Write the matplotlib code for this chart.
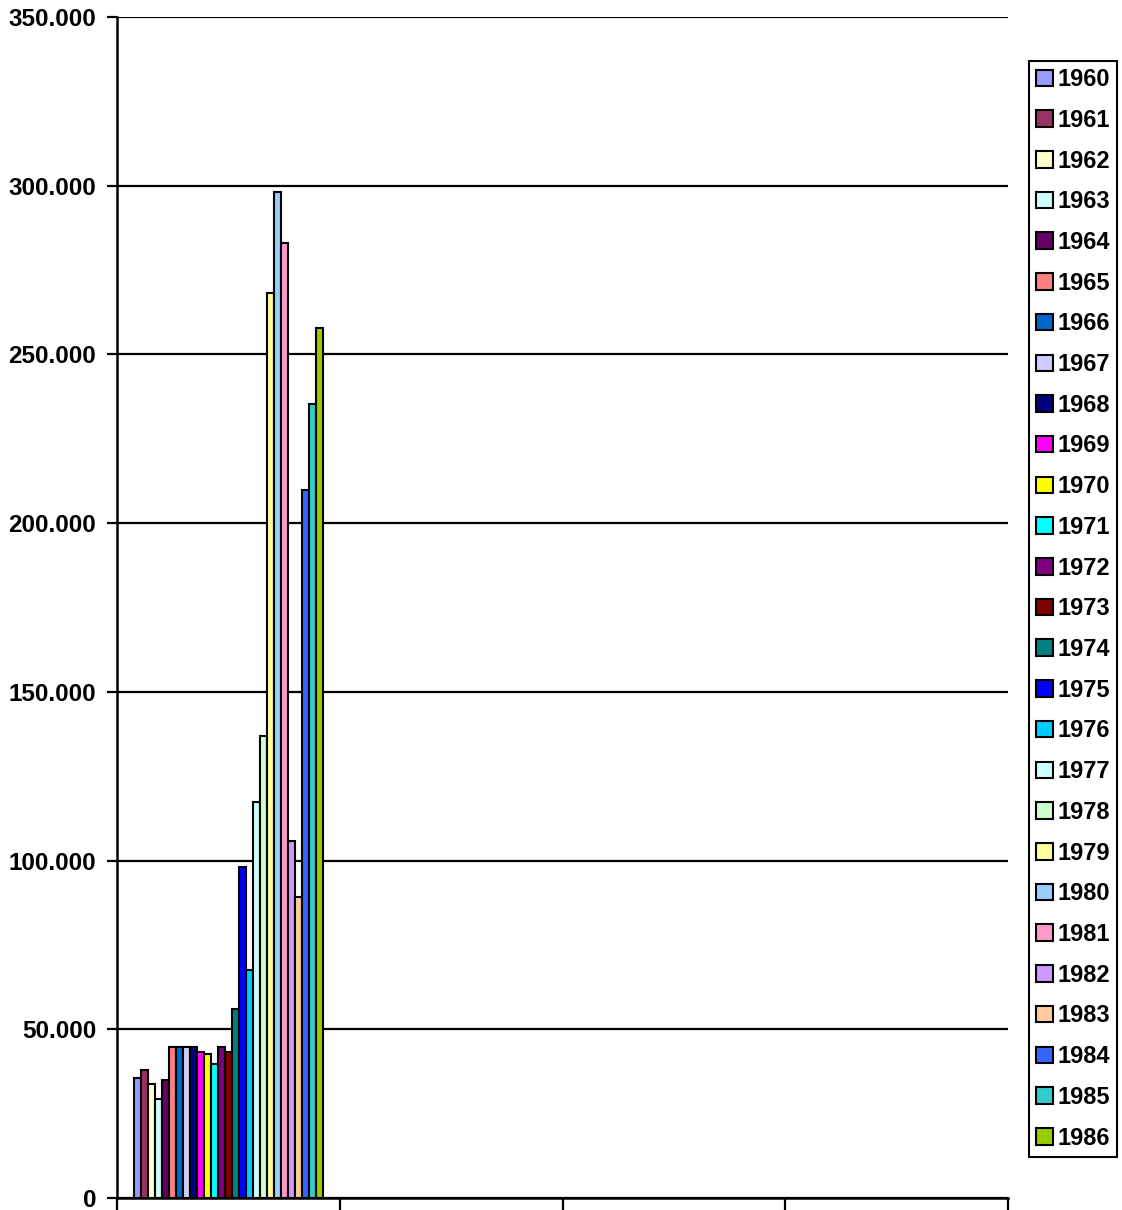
import matplotlib.pyplot as plt
from matplotlib.patches import Patch

years = [str(y) for y in range(1960, 1987)]
values = [35.6, 37.9, 33.7, 29.2, 35.0, 44.8, 44.8, 44.8, 44.8, 43.4,
          42.6, 39.7, 44.8, 43.4, 56.0, 98.0, 67.6, 117.4, 136.9, 268.1,
          298.1, 283.1, 105.9, 89.3, 209.8, 235.3, 257.9]
colors = ['#9999FF', '#993366', '#FFFFCC', '#CCFFFF', '#660066', '#FF8080',
          '#0066CC', '#CCCCFF', '#000080', '#FF00FF', '#FFFF00', '#00FFFF',
          '#800080', '#800000', '#008080', '#0000FF', '#00CCFF', '#CCFFFF',
          '#CCFFCC', '#FFFF99', '#99CCFF', '#FF99CC', '#CC99FF', '#FFCC99',
          '#3366FF', '#33CCCC', '#99CC00']
yticks = [0, 50, 100, 150, 200, 250, 300, 350]
ytick_labels = ['0', '50.000', '100.000', '150.000', '200.000', '250.000',
                '300.000', '350.000']
n_categories = 4

plt.rcParams['font.family'] = ['Liberation Sans', 'DejaVu Sans']

fig = plt.figure(figsize=(11.22, 12.10), dpi=100)
ax = fig.add_axes([117 / 1122, 12 / 1210, 891 / 1122, 1181 / 1210])

# one category group, 27 series side by side
group = 0.848
w = group / len(values)
start = 0.5 - group / 2
for i, (yr, v, c) in enumerate(zip(years, values, colors)):
    ax.bar(start + (i + 0.5) * w, v, width=w, color=c, edgecolor='black',
           linewidth=1.5, zorder=3)

ax.set_xlim(0, n_categories)
ax.set_ylim(0, 350)
ax.set_xticks(range(n_categories + 1))
ax.set_xticklabels([])
ax.set_yticks(yticks)
ax.set_yticklabels(ytick_labels, fontsize=17.5, fontweight='bold')
ax.tick_params(axis='y', length=7, width=1.6, pad=8)
ax.tick_params(axis='x', length=9, width=1.6)
ax.grid(axis='y', color='black', linewidth=1.6, zorder=0)
for s in ['top', 'right']:
    ax.spines[s].set_visible(False)
for s in ['left', 'bottom']:
    ax.spines[s].set_linewidth(1.8)

handles = [Patch(facecolor=c, edgecolor='black', linewidth=1.5) for c in colors]
leg = fig.legend(handles, years, loc='upper left',
                 bbox_to_anchor=(1029 / 1122, 1 - 61 / 1210),
                 prop={'size': 17, 'weight': 'bold'},
                 handlelength=0.7, handleheight=0.7, handletextpad=0.2,
                 labelspacing=0.75, borderpad=0.3, borderaxespad=0,
                 fancybox=False, framealpha=1)
leg.get_frame().set_edgecolor('black')
leg.get_frame().set_linewidth(1.5)

fig.savefig('out.png', dpi=100)
